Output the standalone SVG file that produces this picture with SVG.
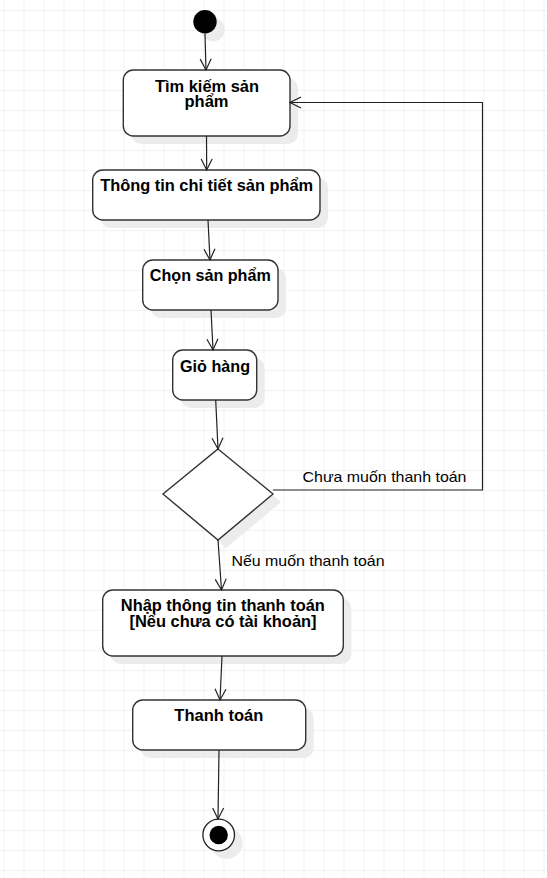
<svg xmlns="http://www.w3.org/2000/svg" width="547" height="878" viewBox="0 0 547 878">
<style>
.node{fill:#fff;stroke:#333;stroke-width:1.4}
.shadow{fill:#ececec;stroke:none}
.t{font-family:"Liberation Sans",Arial,sans-serif;font-weight:bold;font-size:16px;fill:#000;text-anchor:middle}
.lbl{font-family:"Liberation Sans",Arial,sans-serif;font-size:15px;fill:#000}
.edge{fill:none;stroke:#222;stroke-width:1.2}
</style>
<defs>
<pattern id="grid" x="3.5" y="10" width="20" height="20" patternUnits="userSpaceOnUse">
<path d="M0,0 H20 M0,0 V20" fill="none" stroke="#e6e6e6" stroke-width="1"/>
</pattern>
<marker id="arr" markerUnits="userSpaceOnUse" markerWidth="14" markerHeight="14" viewBox="-12 -7 14 14" refX="0" refY="0" orient="auto">
<path d="M-11,-5.5 L0,0 L-11,5.5" fill="none" stroke="#222" stroke-width="1.2"/>
</marker>
</defs>
<rect width="547" height="878" fill="#fff"/>
<rect width="547" height="878" fill="url(#grid)"/>

<g id="start">
<circle class="shadow" cx="213" cy="29.7" r="11.7"/>
<circle cx="205" cy="21.7" r="11.7" fill="#000"/>
</g>

<g id="tim-kiem">
<rect class="shadow" x="131.3" y="78" width="166.7" height="66" rx="10"/>
<rect class="node" x="123.3" y="70" width="166.7" height="66" rx="10"/>
<text class="t" x="207" y="91.5" textLength="104" lengthAdjust="spacingAndGlyphs">Tìm kiếm sản</text>
<text class="t" x="206.5" y="107" textLength="44" lengthAdjust="spacingAndGlyphs">phẩm</text>
</g>

<g id="thong-tin">
<rect class="shadow" x="100.7" y="178" width="227.3" height="50" rx="10"/>
<rect class="node" x="92.7" y="170" width="227.3" height="50" rx="10"/>
<text class="t" x="206.7" y="190.5" textLength="213" lengthAdjust="spacingAndGlyphs">Thông tin chi tiết sản phẩm</text>
</g>

<g id="chon">
<rect class="shadow" x="150.7" y="268" width="135.3" height="50" rx="10"/>
<rect class="node" x="142.7" y="260" width="135.3" height="50" rx="10"/>
<text class="t" x="210.3" y="280.5" textLength="121" lengthAdjust="spacingAndGlyphs">Chọn sản phẩm</text>
</g>

<g id="gio-hang">
<rect class="shadow" x="180.7" y="358" width="84" height="50" rx="10"/>
<rect class="node" x="172.7" y="350" width="84" height="50" rx="10"/>
<text class="t" x="215" y="371.5" textLength="70" lengthAdjust="spacingAndGlyphs">Giỏ hàng</text>
</g>

<g id="decision">
<polygon class="shadow" points="226,457 281,502 226,548 171,502"/>
<polygon class="node" points="218,449 273,494 218,540 163,494"/>
</g>

<g id="nhap">
<rect class="shadow" x="110.7" y="598" width="240.6" height="66" rx="10"/>
<rect class="node" x="102.7" y="590" width="240.6" height="66" rx="10"/>
<text class="t" x="222.8" y="610.7" textLength="204" lengthAdjust="spacingAndGlyphs">Nhập thông tin thanh toán</text>
<text class="t" x="223" y="627.3" textLength="187" lengthAdjust="spacingAndGlyphs">[Nếu chưa có tài khoản]</text>
</g>

<g id="thanh-toan">
<rect class="shadow" x="140.7" y="708" width="173" height="50" rx="10"/>
<rect class="node" x="132.7" y="700" width="173" height="50" rx="10"/>
<text class="t" x="218.8" y="720.5" textLength="89" lengthAdjust="spacingAndGlyphs">Thanh toán</text>
</g>

<g id="end">
<circle class="shadow" cx="226.7" cy="843" r="15.8"/>
<circle cx="218.7" cy="835" r="15.8" fill="#fff" stroke="#222" stroke-width="1.3"/>
<circle cx="218.7" cy="835" r="9.2" fill="#000"/>
</g>

<g id="connectors">
<line class="edge" x1="205" y1="33.4" x2="206" y2="70" marker-end="url(#arr)"/>
<line class="edge" x1="206.5" y1="136" x2="206.7" y2="170" marker-end="url(#arr)"/>
<line class="edge" x1="208" y1="220" x2="210" y2="260" marker-end="url(#arr)"/>
<line class="edge" x1="211" y1="310" x2="213" y2="350" marker-end="url(#arr)"/>
<line class="edge" x1="215.7" y1="400" x2="218" y2="449" marker-end="url(#arr)"/>
<line class="edge" x1="218" y1="540" x2="221.5" y2="590" marker-end="url(#arr)"/>
<line class="edge" x1="222" y1="656" x2="220" y2="700" marker-end="url(#arr)"/>
<line class="edge" x1="219" y1="750" x2="218" y2="819" marker-end="url(#arr)"/>
<polyline class="edge" points="273,490 482.5,490 482.5,102.5 290,102.5" marker-end="url(#arr)"/>
<text class="lbl" x="302.5" y="482" textLength="164" lengthAdjust="spacingAndGlyphs">Chưa muốn thanh toán</text>
<text class="lbl" x="231.5" y="565.5" textLength="153" lengthAdjust="spacingAndGlyphs">Nếu muốn thanh toán</text>
</g>
</svg>
